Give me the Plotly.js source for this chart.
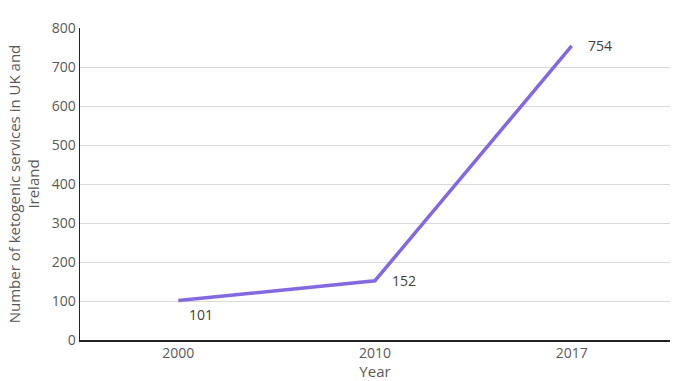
<!DOCTYPE html>
<html>
<head>
<meta charset="utf-8">
<script src="https://cdn.plot.ly/plotly-3.0.1.min.js"></script>
<style>html,body{margin:0;padding:0;background:#fff}#chart{width:684px;height:381px}</style>
</head>
<body>
<div id="chart"></div>
<script>
const years = ["2000", "2010", "2017"];
const services = [101, 152, 754];
const labels = ["101", "152", "754"];

// label offsets (style only), in pixels
const labelShift = [{x: 9, y: -14}, {x: 15, y: 0}, {x: 14, y: 0}];

const font = {family: "Open Sans, Liberation Sans, sans-serif", size: 14, color: "#595959"};

// category axis: annotation x given as category index
const annotations = labels.map((t, i) => ({
  x: years.indexOf(years[i]), y: services[i], xref: "x", yref: "y",
  text: t, showarrow: false,
  xanchor: "left", yanchor: "middle",
  xshift: labelShift[i].x, yshift: labelShift[i].y,
  font: {family: font.family, size: 14, color: "#404040"}
}));

Plotly.newPlot("chart", [{
  type: "scatter",
  mode: "lines",
  x: years,
  y: services,
  line: {color: "#8468e2", width: 3.5},
  hoverinfo: "none"
}], {
  width: 684, height: 381,
  margin: {l: 80, r: 14, t: 28, b: 41},
  paper_bgcolor: "#fff", plot_bgcolor: "#fff",
  font: font,
  showlegend: false,
  annotations: annotations,
  xaxis: {
    type: "category",
    range: [-0.5, 2.5],
    showgrid: false,
    showline: true, linecolor: "#222", linewidth: 1.5,
    ticks: "", tickfont: font,
    title: {text: "Year", font: {family: font.family, size: 15, color: "#595959"}, standoff: 2}
  },
  yaxis: {
    range: [0, 800],
    dtick: 100,
    showgrid: true, gridcolor: "#d9d9d9", gridwidth: 1,
    showline: true, linecolor: "#222", linewidth: 1.5,
    zeroline: false,
    ticks: "", tickfont: font,
    title: {text: "Number of ketogenic services in UK and<br>Ireland", font: {family: font.family, size: 15, color: "#595959"}, standoff: 8}
  }
}, {displayModeBar: false, staticPlot: true});
</script>
</body>
</html>
